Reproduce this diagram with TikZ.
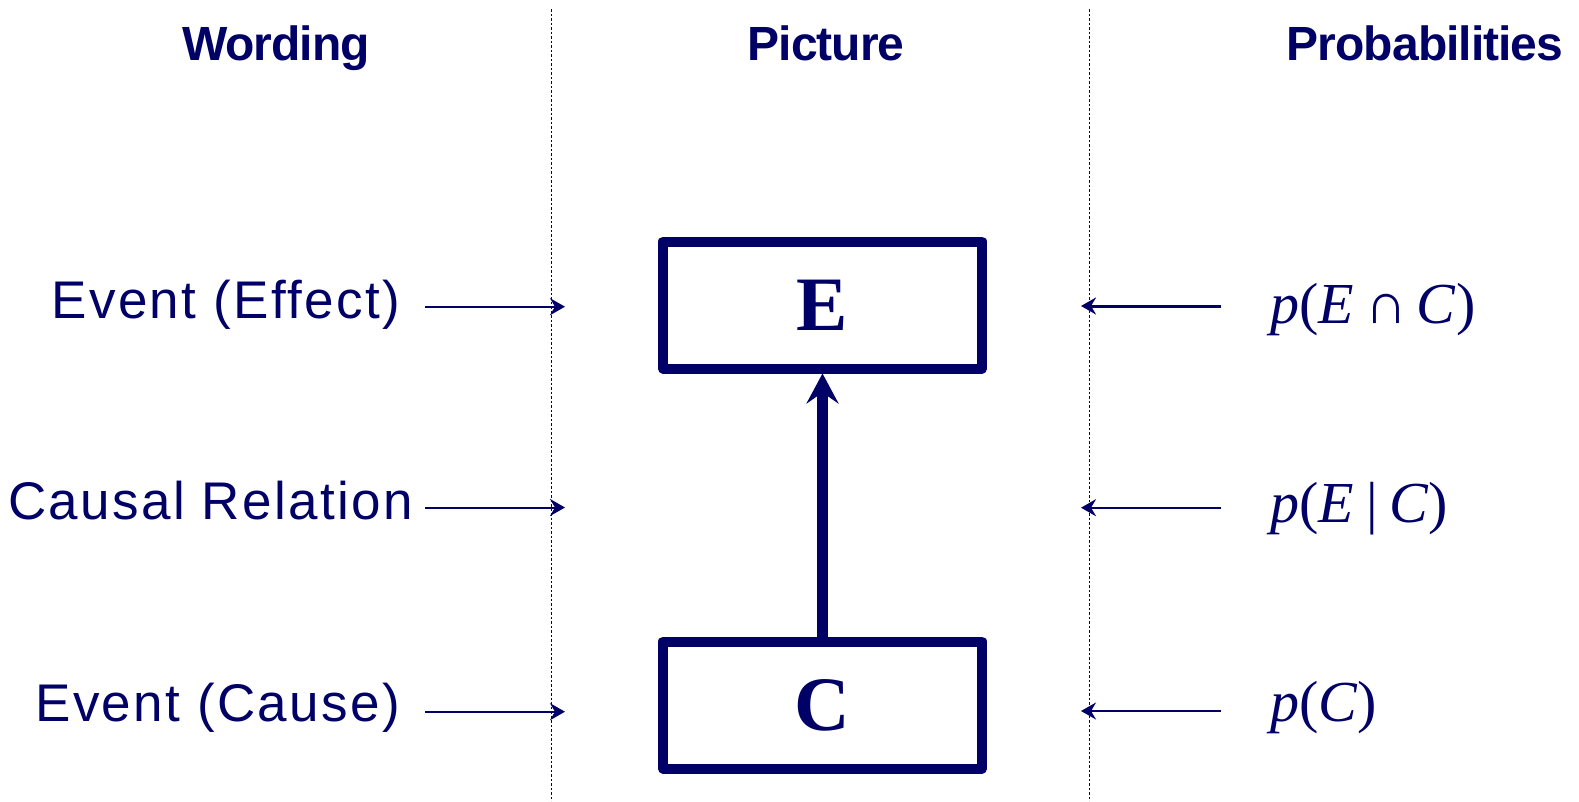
\documentclass[tikz,border=0pt]{standalone}
\usepackage{fontspec}
\setmainfont{Liberation Serif}
\newfontfamily\lblfont[LetterSpace=4.4]{Liberation Sans}
\newfontfamily\hdrfont[LetterSpace=-2]{Liberation Sans}
\usetikzlibrary{arrows.meta}
\definecolor{navy}{RGB}{0,0,102}
\tikzset{
  hdr/.style={font=\hdrfont\bfseries\fontsize{48}{56}\selectfont, text=navy, anchor=base, inner sep=0pt},
  lbl/.style={font=\lblfont\fontsize{53}{60}\selectfont, text=navy, anchor=base east, inner sep=0pt},
  prob/.style={font=\fontsize{58}{64}\selectfont, text=navy, anchor=base west, inner sep=0pt},
  evbox/.style={draw=navy, line width=10pt, minimum width=319pt, minimum height=127pt, inner sep=0pt,
    font=\bfseries\fontsize{77}{80}\selectfont, text=navy, line join=round},
  thinarrow/.style={draw=navy, line width=2pt, -{Stealth[length=15pt,width=17pt,inset=5pt]}},
  bigarrow/.style={draw=navy, line width=11pt, -{Stealth[length=30pt,width=32pt,inset=11pt]}},
  divider/.style={draw=navy, line width=1pt, dash pattern=on 2.5pt off 2pt}
}
\begin{document}
\begin{tikzpicture}[x=1pt,y=-1pt]
\useasboundingbox (0,0) rectangle (1579,801);
% headers
\node[hdr] (hw) at (276,60) {Wording};
\node[hdr] (hp) at (826,60) {Picture};
\node[hdr] (hq) at (1425,60) {Probabilities};
% dividers
\coordinate (d1t) at (551.7,9);
\coordinate (d1b) at (551.7,801);
\coordinate (d2t) at (1089,9);
\coordinate (d2b) at (1089,801);
\draw[divider] (d1t) -- (d1b);
\draw[divider] (d2t) -- (d2b);
% boxes
\node[evbox] (E) at (822.5,305) {E};
\node[evbox] (C) at (822.5,705) {C};
\draw[bigarrow] (C.north) -- (E.south);
% left labels
\node[lbl] (l1) at (400,318) {Event (Effect)};
\node[lbl] (l2) at (413,519) {Causal Relation};
\node[lbl] (l3) at (400,721) {Event (Cause)};
\coordinate (la1s) at (425,306.7); \coordinate (la1e) at (565,306.7);
\coordinate (la2s) at (425,507.5); \coordinate (la2e) at (565,507.5);
\coordinate (la3s) at (425,711.7); \coordinate (la3e) at (565,711.7);
\draw[thinarrow] (la1s) -- (la1e);
\draw[thinarrow] (la2s) -- (la2e);
\draw[thinarrow] (la3s) -- (la3e);
% right labels
\node[prob] (r1) at (1270,323) {\textit{p}(\textit{E}\hspace{12pt}∩\hspace{9pt}\textit{C})};
\node[prob] (r2) at (1270,522) {\textit{p}(\textit{E}\hspace{13pt}|\hspace{11pt}\textit{C})};
\node[prob] (r3) at (1270,721) {\textit{p}(\textit{C})};
\coordinate (ra1s) at (1221,306); \coordinate (ra1e) at (1081,306);
\coordinate (ra2s) at (1221,507.7); \coordinate (ra2e) at (1081,507.7);
\coordinate (ra3s) at (1221,711); \coordinate (ra3e) at (1081,711);
\draw[thinarrow, line width=3pt] (ra1s) -- (ra1e);
\draw[thinarrow] (ra2s) -- (ra2e);
\draw[thinarrow] (ra3s) -- (ra3e);
\end{tikzpicture}
\end{document}
